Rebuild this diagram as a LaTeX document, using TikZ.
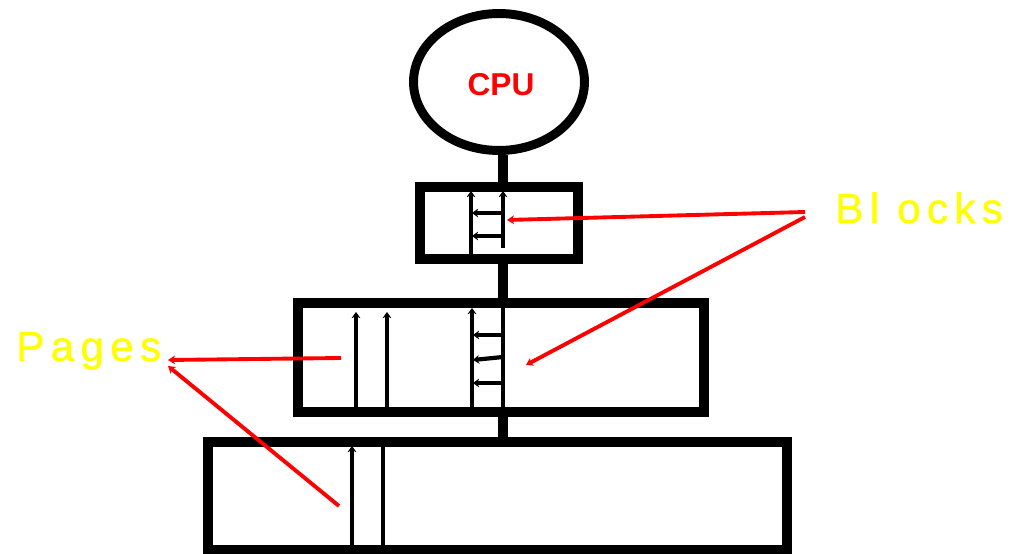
\documentclass[tikz,border=0pt]{standalone}
\usepackage{fontspec}
\setmainfont{Liberation Sans}
\newfontfamily\spacedfont[LetterSpace=15,FakeBold=1]{Liberation Sans}
\usetikzlibrary{shapes.geometric,arrows.meta}
\definecolor{lblred}{RGB}{255,0,0}
\definecolor{lblyellow}{RGB}{255,255,0}
\tikzset{
  boxshape/.style={draw=black,line width=5.7pt,rectangle,inner sep=0pt},
  spineline/.style={draw=black,line width=5.7pt},
  ladder/.style={draw=black,line width=2.4pt},
  ladderarrow/.style={ladder,-{Stealth[length=3.5pt,width=5pt]}},
  redarrow/.style={draw=lblred,line width=2.2pt,-{Stealth[length=4pt,width=5pt]}},
  bigtext/.style={text=lblyellow,font=\spacedfont\fontsize{24}{28}\selectfont,inner sep=0pt,anchor=base west}
}
\begin{document}
\begin{tikzpicture}[x=0.02cm,y=-0.02cm]
\useasboundingbox (0,0) rectangle (1012,554);
% CPU
\node[draw=black,line width=5.1pt,ellipse,minimum width=3.42cm,minimum height=2.74cm,inner sep=0pt] (cpu) at (499,82) {};
\node[text=lblred,font=\bfseries\fontsize{18}{22}\selectfont,inner sep=0pt] (cputext) at (501,85) {CPU};
% boxes
\node[boxshape,minimum width=3.16cm,minimum height=1.44cm] (b1) at (499,223) {};
\node[boxshape,minimum width=8.12cm,minimum height=2.18cm] (b2) at (501,357.5) {};
\node[boxshape,minimum width=11.58cm,minimum height=2.16cm] (b3) at (497.5,496) {};
% spine
\coordinate (spine) at (503,0);
\draw[spineline] (cpu.south -| spine) -- (b1.north -| spine);
\draw[spineline] (b1.south -| spine) -- (b2.north -| spine);
\draw[spineline] (b2.south -| spine) -- (b3.north -| spine);
% ladder in box 1
\draw[ladderarrow] (471,254) -- (471,191);
\draw[ladderarrow] (503,248) -- (503,191);
\draw[ladderarrow] (503,213) -- (472,213);
\draw[ladderarrow] (503,236) -- (472,236);
% box 2
\draw[ladderarrow] (356,408) -- (356,312);
\draw[ladderarrow] (387,408) -- (387,312);
\draw[ladderarrow] (472,408) -- (472,308);
\draw[ladder] (503,408) -- (503,308);
\draw[ladderarrow] (503,335) -- (473,335);
\draw[ladderarrow] (503,357) -- (473,360);
\draw[ladderarrow] (503,383) -- (473,383);
% box 3
\draw[ladderarrow] (352,548) -- (352,446);
\draw[ladder] (383,548) -- (383,447);
% labels
\node[bigtext] (blocks) at (835,223) {Bl ocks};
\node[bigtext] (pages) at (16,361) {Pages};
% red arrows
\coordinate (bs1) at (805,212);
\coordinate (bs2) at (805,217);
\coordinate (be1) at (507,220);
\coordinate (be2) at (526,365);
\draw[redarrow] (bs1) -- (be1);
\draw[redarrow] (bs2) -- (be2);
\coordinate (ps1) at (341,358);
\coordinate (ps2) at (339,506);
\coordinate (pe1) at (168,360);
\coordinate (pe2) at (168,366);
\draw[redarrow] (ps1) -- (pe1);
\draw[redarrow] (ps2) -- (pe2);
\end{tikzpicture}
\end{document}
